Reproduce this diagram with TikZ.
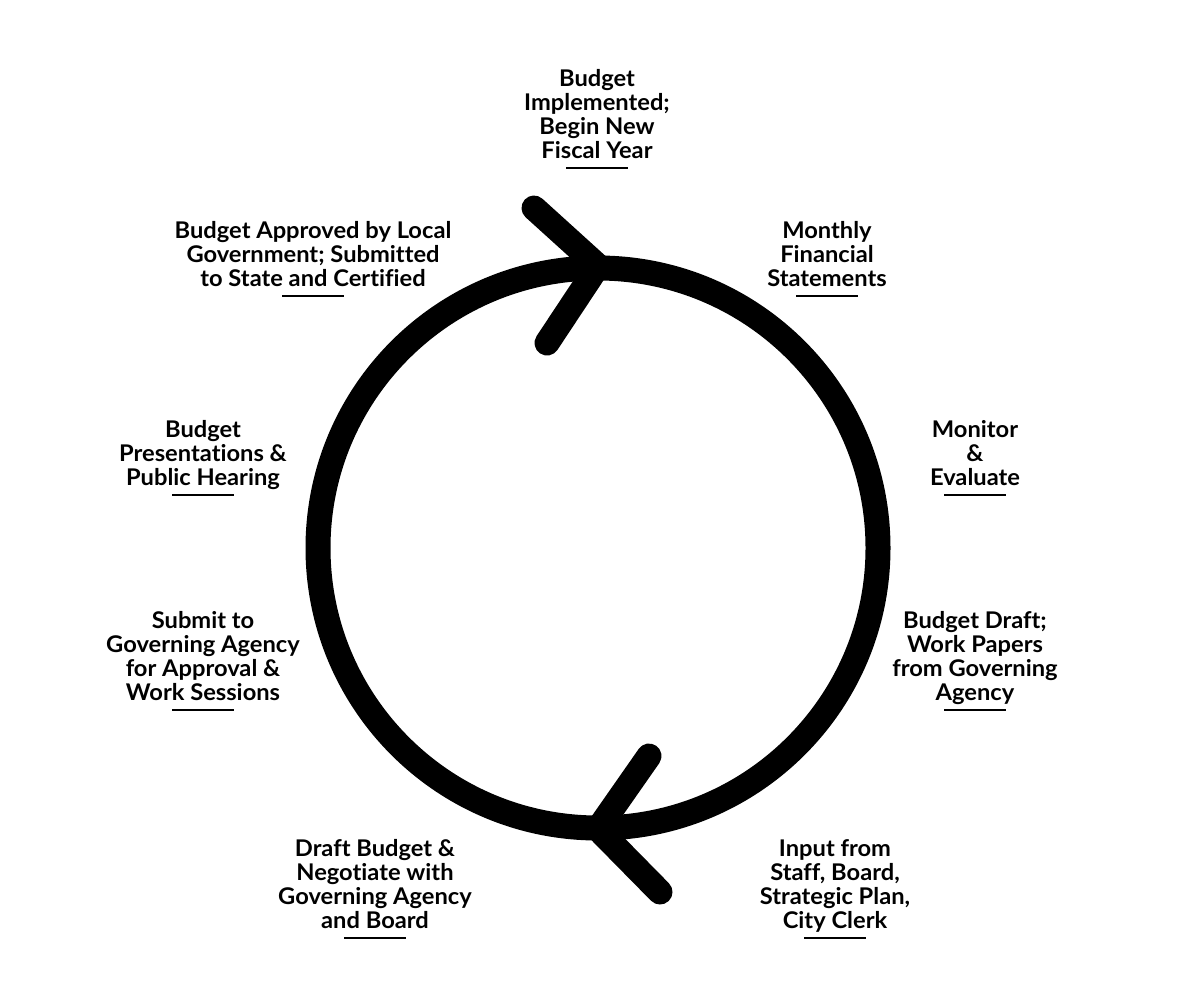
\documentclass[tikz,border=0pt]{standalone}
\usepackage{fontspec}
\setmainfont{Lato}[FakeStretch=1.03, Ligatures=NoCommon]
\usepackage{tikz}

\begin{document}
\begin{tikzpicture}[x=1pt, y=-1pt,
        stage/.style={align=center, anchor=base, inner sep=0pt,
                font=\fontsize{23}{24}\selectfont\bfseries},
        rule/.style={line width=2pt},
        cycle/.style={line width=25pt, line cap=round, line join=miter}]
        \useasboundingbox (0,0) rectangle (1199,989);
        \draw[line width=25pt] (598,548) circle (280);
        \coordinate (toptip) at (598,266);
        \coordinate (bottip) at (598,829);
        \draw[cycle] (534,208) -- (toptip) -- (547,343);
        \draw[cycle] (649,756) -- (bottip) -- (660,892);
        % labels sit on the baseline of their last line
        \node[stage] (fiscal) at (597,158) {Budget\\Implemented;\\Begin New\\Fiscal Year};
        \node[stage] (monthly) at (827,286) {Monthly\\Financial\\Statements};
        \node[stage] (monitor) at (975,485) {Monitor\\\&\\Evaluate};
        \node[stage] (draft) at (975,700) {Budget Draft;\\Work Papers\\from Governing\\Agency};
        \node[stage] (input) at (835,928) {Input from\\Staff, Board,\\Strategic Plan,\\City Clerk};
        \node[stage] (negotiate) at (375,928) {Draft Budget \&\\Negotiate with\\Governing Agency\\and Board};
        \node[stage] (submit) at (203,700) {Submit to\\Governing Agency\\for Approval \&\\Work Sessions};
        \node[stage] (hearing) at (203,485) {Budget\\Presentations \&\\Public Hearing};
        \node[stage] (approved) at (313,286) {Budget Approved by Local\\Government; Submitted\\to State and Certified};
        \draw[rule] ([yshift=-10pt]fiscal.base) ++(-31,0) -- ++(62,0);
        \draw[rule] ([yshift=-10pt]monthly.base) ++(-31,0) -- ++(62,0);
        \draw[rule] ([yshift=-10pt]monitor.base) ++(-31,0) -- ++(62,0);
        \draw[rule] ([yshift=-10pt]draft.base) ++(-31,0) -- ++(62,0);
        \draw[rule] ([yshift=-10pt]input.base) ++(-31,0) -- ++(62,0);
        \draw[rule] ([yshift=-10pt]negotiate.base) ++(-31,0) -- ++(62,0);
        \draw[rule] ([yshift=-10pt]submit.base) ++(-31,0) -- ++(62,0);
        \draw[rule] ([yshift=-10pt]hearing.base) ++(-31,0) -- ++(62,0);
        \draw[rule] ([yshift=-10pt]approved.base) ++(-31,0) -- ++(62,0);
\end{tikzpicture}
\end{document}
